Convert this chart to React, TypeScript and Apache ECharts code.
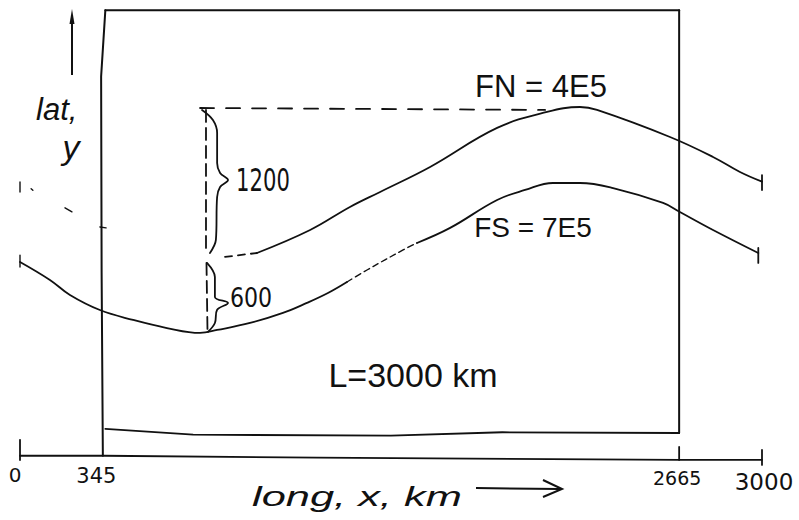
import React, { useEffect, useRef } from "react";
import * as echarts from "echarts";

const INK = "#111111";

// axis ranges (km)
const X_MIN = 0;
const X_MAX = 3000;
const Y_MIN = -100;
const Y_MAX = 3700;

// x tick labels
const xTickValues = [0, 345, 2665, 3000];
const xTickLabels = ["0", "345", "2665", "3000"];

// domain box (x km, lat km)
const boxTop = [[345, 3640], [2665, 3640]];
const boxRight = [[2665, 3640], [2665, 186]];
const boxBottom = [[345, 220], [700, 172], [1500, 165], [1950, 192], [2665, 186]];
const boxLeft = [[345, 3640], [328, 3100], [330, 1500], [335, 0]];

// long axis (hand drawn)
const axisBase = [[0, 0], [340, 0], [1200, -15], [2665, -34], [3000, -34]];
const axisTicks = [
  [[0, 130], [0, -35]],
  [[2665, 72], [2665, -34]],
  [[3000, 48], [3000, -75]],
];

// FN front (northern), lat vs long
const fnLeadDashed = [[829, 1625], [958, 1657]];
const fnCurve = [
  [958, 1657], [1173, 1845], [1334, 2033], [1456, 2156], [1658, 2360],
  [1929, 2679], [2131, 2810], [2264, 2850], [2333, 2826], [2628, 2605],
  [2802, 2442], [2911, 2319], [3000, 2240],
];
const fnEndTick = [[3000, 2294], [3000, 2171]];
const fnWestDots = [
  [[45, 2182], [52, 2170]],
  [[182, 2026], [210, 1993]],
  [[323, 1870], [348, 1862]],
];
const fnWestTick = [[0, 2237], [0, 2155]];

// FS front (southern)
const fsCurveA = [
  [0, 1584], [121, 1437], [202, 1314], [323, 1191], [457, 1110], [594, 1044],
  [728, 1004], [797, 1028], [930, 1085], [1063, 1167], [1160, 1249],
  [1245, 1330], [1322, 1420],
];
const fsDashed = [[1322, 1420], [1403, 1518], [1549, 1682], [1605, 1739]];
const fsCurveB = [
  [1605, 1739], [1739, 1862], [1929, 2090], [2042, 2172], [2155, 2229],
  [2264, 2229], [2398, 2188], [2600, 2066], [2668, 1992], [2802, 1845],
  [2985, 1657],
];
const fsStartTick = [[0, 1640], [0, 1543]];
const fsEndTick = [[2985, 1698], [2985, 1576]];

// separation annotations (1200 km and 600 km)
const peakDashed = [[728, 2842], [2123, 2826]];
const sepDashed1200 = [[752, 2826], [752, 1657]];
const sepDashed600 = [[754, 1576], [758, 1028]];
const brace1200 = [
  [736, 2826], [780, 2744], [797, 2638], [797, 2393], [809, 2311], [841, 2254],
  [809, 2197], [797, 2115], [792, 1764], [768, 1657],
];
const brace600 = [
  [756, 1576], [788, 1461], [788, 1298], [841, 1249], [797, 1193], [788, 1085], [760, 1012],
];

const line = (data: number[][], opts: { dash?: any; smooth?: any; width?: number } = {}) => ({
  type: "line",
  data,
  symbol: "none",
  silent: true,
  clip: false,
  smooth: opts.smooth ?? false,
  lineStyle: { color: INK, width: opts.width ?? 1.8, type: opts.dash ?? "solid", cap: "round" },
  z: 3,
});

const txt = (text: string, x: number, y: number, font: string, align: string, extra: any = {}) => ({
  type: "text",
  x,
  y,
  silent: true,
  ...extra,
  style: {
    text,
    fill: INK,
    font,
    textAlign: align,
    textVerticalAlign: "middle",
  },
  z: 10,
});

export default function App() {
  const ref = useRef<HTMLDivElement>(null);

  useEffect(() => {
    document.body.style.margin = "0";
    const chart = echarts.init(ref.current!, undefined, { renderer: "svg" });

    const series: any[] = [
      line(boxTop, { width: 2 }),
      line(boxRight, { width: 2 }),
      line(boxBottom, { width: 1.8 }),
      line(boxLeft, { width: 2 }),
      line(axisBase, { width: 1.8 }),
      ...axisTicks.map((t) => line(t, { width: 1.8 })),
      line(fnLeadDashed, { dash: [7, 6] }),
      line(fnCurve, { smooth: 0.4 }),
      line(fnEndTick),
      ...fnWestDots.map((d) => line(d, { width: 1.4 })),
      line(fnWestTick, { width: 1.4 }),
      line(fsCurveA, { smooth: 0.4 }),
      line(fsDashed, { smooth: 0.4, dash: [6, 4], width: 1.4 }),
      line(fsCurveB, { smooth: 0.4 }),
      line(fsStartTick, { width: 1.4 }),
      line(fsEndTick),
      line(peakDashed, { dash: [14, 12] }),
      line(sepDashed1200, { dash: [12, 6] }),
      line(sepDashed600, { dash: [12, 6] }),
      line(brace1200, { smooth: 0.35 }),
      line(brace600, { smooth: 0.35 }),
    ];

    chart.setOption({
      animation: false,
      backgroundColor: "#ffffff",
      grid: { left: 20, right: 37, top: 3, bottom: 52, containLabel: false, outerBoundsMode: "none" },
      xAxis: {
        type: "value",
        min: X_MIN,
        max: X_MAX,
        axisLine: { show: false },
        axisTick: { show: false },
        splitLine: { show: false },
        axisLabel: { show: false },
      },
      yAxis: {
        type: "value",
        min: Y_MIN,
        max: Y_MAX,
        show: false,
        splitLine: { show: false },
      },
      series,
    });

    // tick labels placed from the axis scale
    const labelFont = ['20px "DejaVu Sans"', '21px "DejaVu Sans"', '19px "DejaVu Sans"', '23px "DejaVu Sans"'];
    const labelDx = [-5, -9, -2, 2];
    const labelDy = [19, 20, 22, 26];
    const tickLabelGraphics = xTickValues.map((v, i) => {
      const p = chart.convertToPixel({ gridIndex: 0 }, [v, 0]) as number[];
      return txt(xTickLabels[i], p[0] + labelDx[i], p[1] + labelDy[i], labelFont[i], "center");
    });

    chart.setOption({
      graphic: [
        { type: "line", silent: true, shape: { x1: 72, y1: 75, x2: 72, y2: 18 }, style: { stroke: INK, lineWidth: 2 } },
        { type: "polygon", silent: true, shape: { points: [[69.5, 24], [72, 9], [74.5, 24]] }, style: { fill: INK } },
        txt("lat,", 36, 109, 'italic 31px "Liberation Sans"', "left"),
        txt("y", 71, 147, 'italic 34px "Liberation Sans"', "center"),
        txt("1200", 263, 180, '32px "DejaVu Sans"', "center", { scaleX: 0.66 }),
        txt("600", 251, 298, '27px "DejaVu Sans"', "center", { scaleX: 0.82 }),
        txt("FN = 4E5", 541, 86, '31px "Liberation Sans"', "center"),
        txt("FS = 7E5", 533, 227, '28px "Liberation Sans"', "center"),
        txt("L=3000 km", 413, 375, '34px "Liberation Sans"', "center"),
        txt("long, x, km", 252, 496, 'italic 28px "Liberation Sans"', "left", { scaleX: 1.55 }),
        { type: "line", silent: true, shape: { x1: 476, y1: 488, x2: 560, y2: 489 }, style: { stroke: INK, lineWidth: 2 } },
        { type: "polyline", silent: true, shape: { points: [[543, 480], [562, 489], [543, 497]] }, style: { stroke: INK, lineWidth: 2, fill: "none" } },
        ...tickLabelGraphics,
      ],
    });

    return () => chart.dispose();
  }, []);

  return <div ref={ref} style={{ width: 799, height: 520 }} />;
}
